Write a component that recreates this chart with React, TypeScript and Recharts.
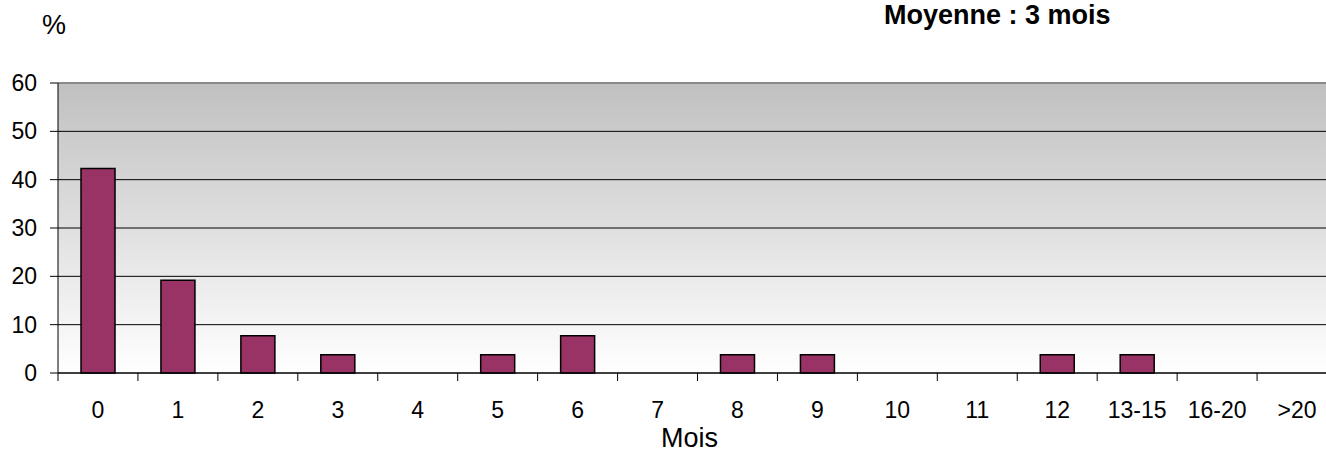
import { BarChart, Bar, XAxis, YAxis, CartesianGrid, ReferenceLine } from "recharts";

const categories = ["0", "1", "2", "3", "4", "5", "6", "7", "8", "9", "10", "11", "12", "13-15", "16-20", ">20"];
const percents = [42.3, 19.2, 7.7, 3.8, 0, 3.8, 7.7, 0, 3.8, 3.8, 0, 0, 3.8, 3.8, 0, 0];
const yTicks = [0, 10, 20, 30, 40, 50, 60];

const data = categories.map((mois, i) => ({ mois, pct: percents[i] }));

const CHART_W = 1337;
const CHART_H = 453;
const Y_AXIS_W = 58;
const CAT_W = (CHART_W - Y_AXIS_W) / categories.length;
const FONT = "'Liberation Sans', Arial, sans-serif";

function MonthTick(props: any) {
  const { x, y, payload } = props;
  const edge = x - CAT_W / 2;
  return (
    <g>
      <line x1={edge} x2={edge} y1={y} y2={y + 8} stroke="#000" strokeWidth={1} />
      <text x={x} y={y + 45} textAnchor="middle" fontSize={23} fontFamily={FONT} fill="#000">
        {payload.value}
      </text>
    </g>
  );
}

export default function App() {
  return (
    <div
      style={{
        position: "fixed",
        left: 0,
        top: 0,
        width: 1326,
        height: CHART_H,
        overflow: "hidden",
        background: "#fff",
        fontFamily: FONT,
      }}
    >
      <div style={{ position: "absolute", left: 42, top: 12, fontSize: 27, lineHeight: 1 }}>%</div>
      <div
        style={{ position: "absolute", left: 884, top: 0, fontSize: 27, lineHeight: 1.15, fontWeight: "bold" }}
      >
        Moyenne : 3 mois
      </div>
      <div style={{ position: "absolute", left: 661, top: 425, fontSize: 27, lineHeight: 1 }}>Mois</div>

      <BarChart
        width={CHART_W}
        height={CHART_H}
        data={data}
        margin={{ top: 83, right: 0, left: 0, bottom: 0 }}
      >
        <defs>
          <linearGradient id="plotBg" x1="0" y1="0" x2="0" y2="1">
            <stop offset="0%" stopColor="#c0c0c0" />
            <stop offset="100%" stopColor="#ffffff" />
          </linearGradient>
        </defs>
        <CartesianGrid vertical={false} stroke="#000" strokeWidth={1} fill="url(#plotBg)" fillOpacity={1} />
        <XAxis
          dataKey="mois"
          height={CHART_H - 373}
          interval={0}
          axisLine={{ stroke: "#000", strokeWidth: 1 }}
          tickLine={false}
          tickSize={0}
          tickMargin={0}
          tick={<MonthTick />}
        />
        <YAxis
          width={Y_AXIS_W}
          domain={[0, 60]}
          ticks={yTicks}
          interval={0}
          axisLine={{ stroke: "#000", strokeWidth: 1 }}
          tickLine={{ stroke: "#000" }}
          tickSize={8}
          tickMargin={13}
          tick={{ fill: "#000", fontSize: 23, fontFamily: FONT }}
        />
        <ReferenceLine y={60} stroke="#8a8a8a" strokeWidth={2} />
        <Bar
          dataKey="pct"
          fill="#993366"
          stroke="#000"
          strokeWidth={1.5}
          barSize={34}
          isAnimationActive={false}
        />
      </BarChart>
    </div>
  );
}
